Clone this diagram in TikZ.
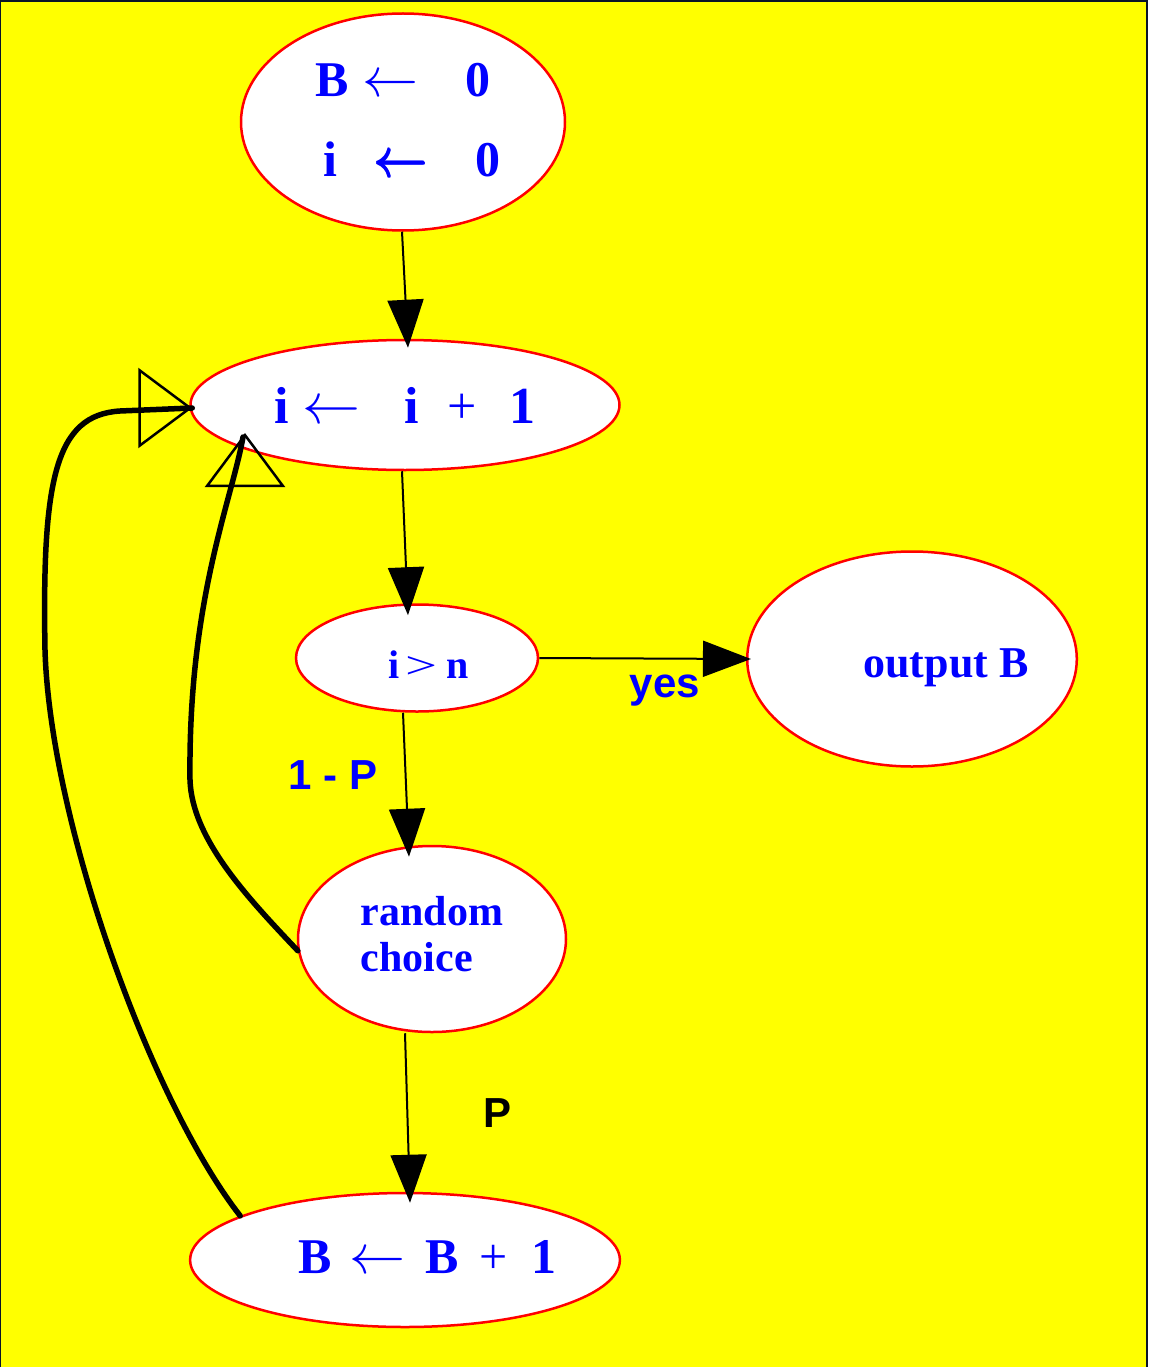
\documentclass[tikz,border=0pt]{standalone}
\usepackage{fontspec}
\usepackage{graphicx}
\setmainfont{Liberation Serif}
\newfontfamily\lsans{Liberation Sans}
\usetikzlibrary{arrows.meta,shapes.geometric}
\definecolor{bg}{RGB}{255,255,0}
\definecolor{framec}{RGB}{10,20,40}
\definecolor{tblue}{RGB}{0,0,255}
\newcommand{\myarrow}[1]{\resizebox{#1}{!}{$\leftarrow$}}
\newcommand{\myboldarrow}{\makebox[55pt][l]{%
  \rlap{\myarrow{54pt}}%
  \rlap{\raisebox{1pt}{\myarrow{54pt}}}%
  \rlap{\raisebox{-1pt}{\myarrow{54pt}}}%
  \rlap{\hspace{1pt}\raisebox{0.5pt}{\myarrow{54pt}}}%
  \rlap{\hspace{1pt}\raisebox{-0.5pt}{\myarrow{54pt}}}}}
\begin{document}
\begin{tikzpicture}[x=1pt,y=-1pt,
  state/.style={ellipse, draw=red, fill=white, line width=2.5pt, inner sep=0pt, text=tblue, font=\bfseries},
  flow/.style={line width=2pt, -{Triangle[length=48pt,width=36pt]}},
  backline/.style={line width=5.5pt, line cap=round},
  opentip/.style={line width=0.1pt, -{Triangle[open, length=54pt, width=80pt, line width'=2.5pt]}},
  lbl/.style={font=\lsans\bfseries\fontsize{42}{48}\selectfont, text=tblue}
]
\useasboundingbox (0,0) rectangle (1148,1367);
\fill[bg] (0,0) rectangle (1148,1367);
\fill[framec] (0,0) rectangle (1148,2);
\fill[framec] (0,0) rectangle (1,1367);
\fill[framec] (1146,0) rectangle (1148,1367);

\node[state, minimum width=324pt, minimum height=217pt, align=center,
      font=\bfseries\fontsize{50}{80}\selectfont] (top) at (403,122)
  {B\hspace{14pt}\myarrow{56pt}\hspace{47pt}0\\
   \hspace*{18pt}i\hspace{36pt}\myboldarrow\hspace{47pt}0\\[-76pt]\mbox{}};
\node[state, minimum width=429pt, minimum height=130pt,
      font=\bfseries\fontsize{52}{60}\selectfont] (inc) at (405,405)
  {i\hspace{14pt}\myarrow{58pt}\hspace{44pt}i\hspace{28pt}{\mdseries +}\hspace{33pt}1};
\node[state, minimum width=242pt, minimum height=107pt, text height=41pt, text depth=0pt,
      font=\bfseries\fontsize{40}{48}\selectfont] (gt) at (417,658)
  {\hspace*{24pt}i\hspace{6pt}\resizebox{32pt}{22pt}{\mdseries >}\hspace{9pt}n};
\node[state, minimum width=322pt, minimum height=215pt, text height=36pt, text depth=0pt,
      font=\bfseries\fontsize{44}{50}\selectfont] (out) at (912,659)
  {\hspace*{68pt}output B};
\node[state, minimum width=268pt, minimum height=186pt, align=left,
      font=\bfseries\fontsize{42}{46}\selectfont] (rc) at (432,939)
  {random\\choice\\[-36pt]\mbox{}};
\node[state, minimum width=429pt, minimum height=134pt, text height=26pt, text depth=0pt,
      font=\bfseries\fontsize{50}{60}\selectfont] (bb) at (405,1260)
  {\hspace*{45pt}B\hspace{18pt}\myarrow{56pt}\hspace{20pt}B\hspace{21pt}{\mdseries +}\hspace{24pt}1};

\node[lbl] (yes) at (665,691) {yes};
\node[lbl] (omp) at (333,775) {1 - P};
\node[lbl, text=black] (p) at (497,1113) {P};

\draw[flow] ([xshift=-1pt]top.south) -- ([shift={(3,9)}]inc.north);
\draw[flow] ([xshift=-3pt]inc.south) -- ([shift={(-9,12)}]gt.north);
\draw[flow] ([xshift=-14pt]gt.south) -- ([shift={(-23,12)}]rc.north);
\draw[flow] ([xshift=-27pt]rc.south) -- ([shift={(5,11)}]bb.north);
\draw[flow] (gt.east) -- ([shift={(5,0)}]out.west);

\draw[backline] (bb.165) .. controls (150,1100) and (50,820) .. (45,650)
  .. controls (42,480) and (55,415) .. (120,411) -- ([shift={(3,3)}]inc.west);
\draw[opentip] ([shift={(-51,3)}]inc.west) -- ([shift={(3,3)}]inc.west);
\draw[backline] (rc.185) .. controls (250,900) and (192,840) .. (190,780)
  .. controls (188,600) and (232,500) .. ([shift={(-162,32)}]inc.center);
\draw[opentip] ([shift={(-160,82)}]inc.center) -- ([shift={(-160,28)}]inc.center);
\end{tikzpicture}
\end{document}
